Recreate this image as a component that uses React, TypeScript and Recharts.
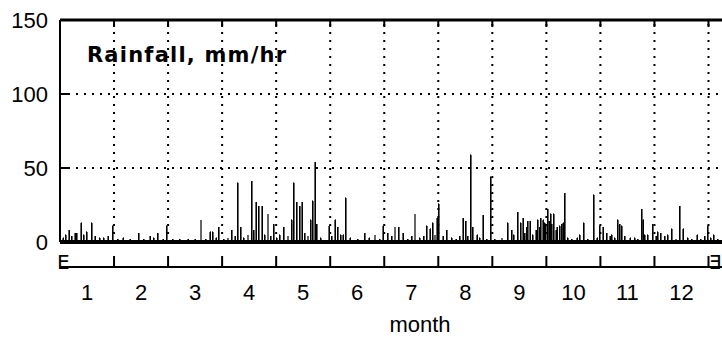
import { ComposedChart, Bar, XAxis, YAxis, ReferenceLine } from "recharts";

// month labels along the lower strip
const monthLabels = ["1", "2", "3", "4", "5", "6", "7", "8", "9", "10", "11", "12"];
const yTicks = [0, 50, 100, 150];
const gridY = [50, 100];

// rain events: position in months (fractional) and intensity in mm/hr
const rainMonth = [
    0.06, 0.11, 0.17, 0.22, 0.28, 0.31, 0.39, 0.44, 0.5, 0.59, 0.65, 0.74, 0.81, 0.89, 0.98,
    1.07, 1.17, 1.3, 1.46, 1.55, 1.67, 1.74, 1.81, 1.91, 1.98,
    2.09, 2.22, 2.37, 2.5, 2.61, 2.7, 2.78, 2.83, 2.89, 2.94,
    3.03, 3.11, 3.18, 3.24, 3.29, 3.35, 3.4, 3.48, 3.55, 3.59, 3.63, 3.68, 3.74, 3.79, 3.85, 3.9, 3.96,
    4.01, 4.07, 4.14, 4.22, 4.29, 4.33, 4.38, 4.44, 4.48, 4.53, 4.59, 4.64, 4.68, 4.72, 4.75, 4.83, 4.98,
    5.03, 5.09, 5.14, 5.2, 5.24, 5.29, 5.37, 5.51, 5.64, 5.72, 5.83, 5.92, 5.98,
    6.07, 6.14, 6.2, 6.27, 6.35, 6.44, 6.51, 6.57, 6.66, 6.73, 6.79, 6.85, 6.9, 6.94, 6.98,
    7.01, 7.09, 7.16, 7.25, 7.33, 7.4, 7.46, 7.51, 7.55, 7.6, 7.64, 7.72, 7.77, 7.83, 7.9, 7.97,
    8.05, 8.18, 8.29, 8.36, 8.4, 8.47, 8.53, 8.57, 8.6, 8.64, 8.66, 8.7, 8.75, 8.81, 8.84, 8.88, 8.9, 8.94, 8.97, 8.99,
    9.03, 9.05, 9.08, 9.1, 9.14, 9.18, 9.2, 9.25, 9.29, 9.31, 9.34, 9.4, 9.47, 9.57, 9.62, 9.69, 9.77, 9.88, 9.94, 9.99,
    10.05, 10.12, 10.18, 10.21, 10.27, 10.32, 10.36, 10.4, 10.45, 10.55, 10.64, 10.69, 10.77, 10.79, 10.82, 10.88, 10.97,
    11.03, 11.06, 11.12, 11.19, 11.25, 11.32, 11.4, 11.47, 11.53, 11.62, 11.69, 11.79, 11.86, 11.93, 11.99,
    12.04, 12.1, 12.17,
];
const rainMm = [
    3, 5, 8, 4, 6, 6, 13, 5, 7, 13, 4, 3, 3, 4, 11,
    2, 3, 2, 6, 2, 4, 3, 6, 2, 11,
    2, 2, 2, 2, 15, 2, 7, 7, 3, 10,
    2, 3, 8, 4, 40, 10, 3, 5, 41, 8, 27, 24, 24, 5, 19, 4, 12,
    3, 5, 10, 4, 15, 40, 27, 24, 27, 6, 4, 15, 28, 54, 12, 3, 11,
    4, 15, 10, 5, 5, 30, 3, 2, 6, 3, 5, 2, 11,
    6, 4, 10, 10, 6, 2, 4, 19, 3, 4, 11, 9, 13, 5, 16,
    26, 4, 8, 3, 2, 4, 16, 14, 4, 59, 10, 5, 3, 18, 2, 44,
    2, 3, 13, 8, 5, 20, 13, 16, 6, 10, 14, 14, 5, 8, 15, 10, 16, 15, 13, 12,
    22, 14, 19, 12, 19, 8, 10, 11, 12, 13, 33, 3, 2, 3, 5, 13, 2, 32, 3, 11,
    10, 6, 4, 5, 3, 15, 12, 11, 4, 3, 3, 2, 22, 15, 5, 5, 12,
    4, 7, 6, 4, 5, 9, 2, 24, 9, 3, 2, 5, 2, 4, 11,
    3, 5, 2,
];

const X_MAX = 12.25;
const Y_MIN = -16.9;

const data = rainMonth.map((m, i) => ({ month: m, mm: rainMm[i] }));
const boundaries = monthLabels.map((_, i) => i + 1);
const centers = monthLabels.map((_, i) => i + 0.5);
const bottomTicks = [0, ...centers, ...boundaries, X_MAX].sort((a, b) => a - b);

const numStyle = { fontFamily: "'Liberation Sans', Arial, sans-serif", fontSize: 22, fill: "#000" };
const markStyle = { fontFamily: "'DejaVu Sans', sans-serif", fontSize: 20, fill: "#000" };

function RainTick(p: any) {
    const { x, y, payload } = p;
    const v = payload.value;
    return (
        <g>
            <text x={x} y={y} dy="0.36em" textAnchor="end" style={numStyle}>
                {v}
            </text>
            {v > 0 && v < 150 && (
                <line x1={x + 12} x2={x + 22} y1={y} y2={y} stroke="#000" strokeWidth={2} />
            )}
        </g>
    );
}

function TopTick(p: any) {
    const { x, y } = p;
    return <line x1={x} x2={x} y1={y} y2={y + 7} stroke="#000" strokeWidth={2} />;
}

function MonthTick(p: any) {
    const { x, y, payload } = p;
    const v = payload.value;
    if (v === 0) {
        return (
            <text x={x - 3} y={y + 2} style={markStyle}>
                E
            </text>
        );
    }
    if (v === X_MAX) {
        return (
            <text x={x} y={y + 2} textAnchor="end" style={markStyle}>
                Ǝ
            </text>
        );
    }
    if (Number.isInteger(v)) {
        return <line x1={x} x2={x} y1={y - 11} y2={y} stroke="#000" strokeWidth={2} />;
    }
    return (
        <text x={x} y={y + 33} textAnchor="middle" style={numStyle}>
            {monthLabels[Math.floor(v)]}
        </text>
    );
}

const dotted = { stroke: "#000", strokeWidth: 2, strokeDasharray: "2 6" };

export default function App() {
    return (
        <div style={{ position: "relative", width: 722, height: 339, background: "#fff" }}>
            <style>{"body{margin:0}"}</style>
            <ComposedChart
                width={722}
                height={339}
                data={data}
                margin={{ top: 0, right: 0, left: 0, bottom: 0 }}
            >
                <XAxis
                    xAxisId="top"
                    orientation="top"
                    type="number"
                    dataKey="month"
                    domain={[0, X_MAX]}
                    ticks={boundaries}
                    interval={0}
                    height={20}
                    tickSize={0}
                    tickMargin={0}
                    axisLine={{ stroke: "#000", strokeWidth: 3 }}
                    tick={(p: any) => <TopTick {...p} />}
                />
                <XAxis
                    type="number"
                    dataKey="month"
                    domain={[0, X_MAX]}
                    allowDataOverflow
                    ticks={bottomTicks}
                    interval={0}
                    height={72}
                    tickSize={0}
                    tickMargin={0}
                    axisLine={{ stroke: "#000", strokeWidth: 2 }}
                    tick={(p: any) => <MonthTick {...p} />}
                    label={{
                        value: "month",
                        position: "insideBottom",
                        offset: 7,
                        dx: 29,
                        style: numStyle,
                    }}
                />
                <YAxis
                    type="number"
                    domain={[Y_MIN, 150]}
                    allowDataOverflow
                    ticks={yTicks}
                    interval={0}
                    width={60}
                    tickSize={0}
                    tickMargin={12}
                    axisLine={false}
                    tick={(p: any) => <RainTick {...p} />}
                />
                {gridY.map((v) => (
                    <ReferenceLine
                        key={"h" + v}
                        segment={[
                            { x: 0, y: v },
                            { x: X_MAX, y: v },
                        ]}
                        {...dotted}
                    />
                ))}
                {boundaries.map((m) => (
                    <ReferenceLine
                        key={"v" + m}
                        segment={[
                            { x: m, y: 0 },
                            { x: m, y: 150 },
                        ]}
                        {...dotted}
                    />
                ))}
                <ReferenceLine
                    segment={[
                        { x: 0, y: 0 },
                        { x: 0, y: 150 },
                    ]}
                    stroke="#000"
                    strokeWidth={2}
                />
                <Bar
                    dataKey="mm"
                    fill="#000"
                    stroke="#000"
                    strokeWidth={0.6}
                    barSize={2}
                    shapeRendering="crispEdges"
                    isAnimationActive={false}
                />
                <ReferenceLine y={0} stroke="#000" strokeWidth={4} />
            </ComposedChart>
            <div
                style={{
                    position: "absolute",
                    left: 87,
                    top: 43,
                    fontFamily: "'DejaVu Sans', sans-serif",
                    fontWeight: "bold",
                    fontSize: 21,
                    letterSpacing: 1.2,
                    lineHeight: "24px",
                    color: "#000",
                }}
            >
                Rainfall, mm/hr
            </div>
        </div>
    );
}
